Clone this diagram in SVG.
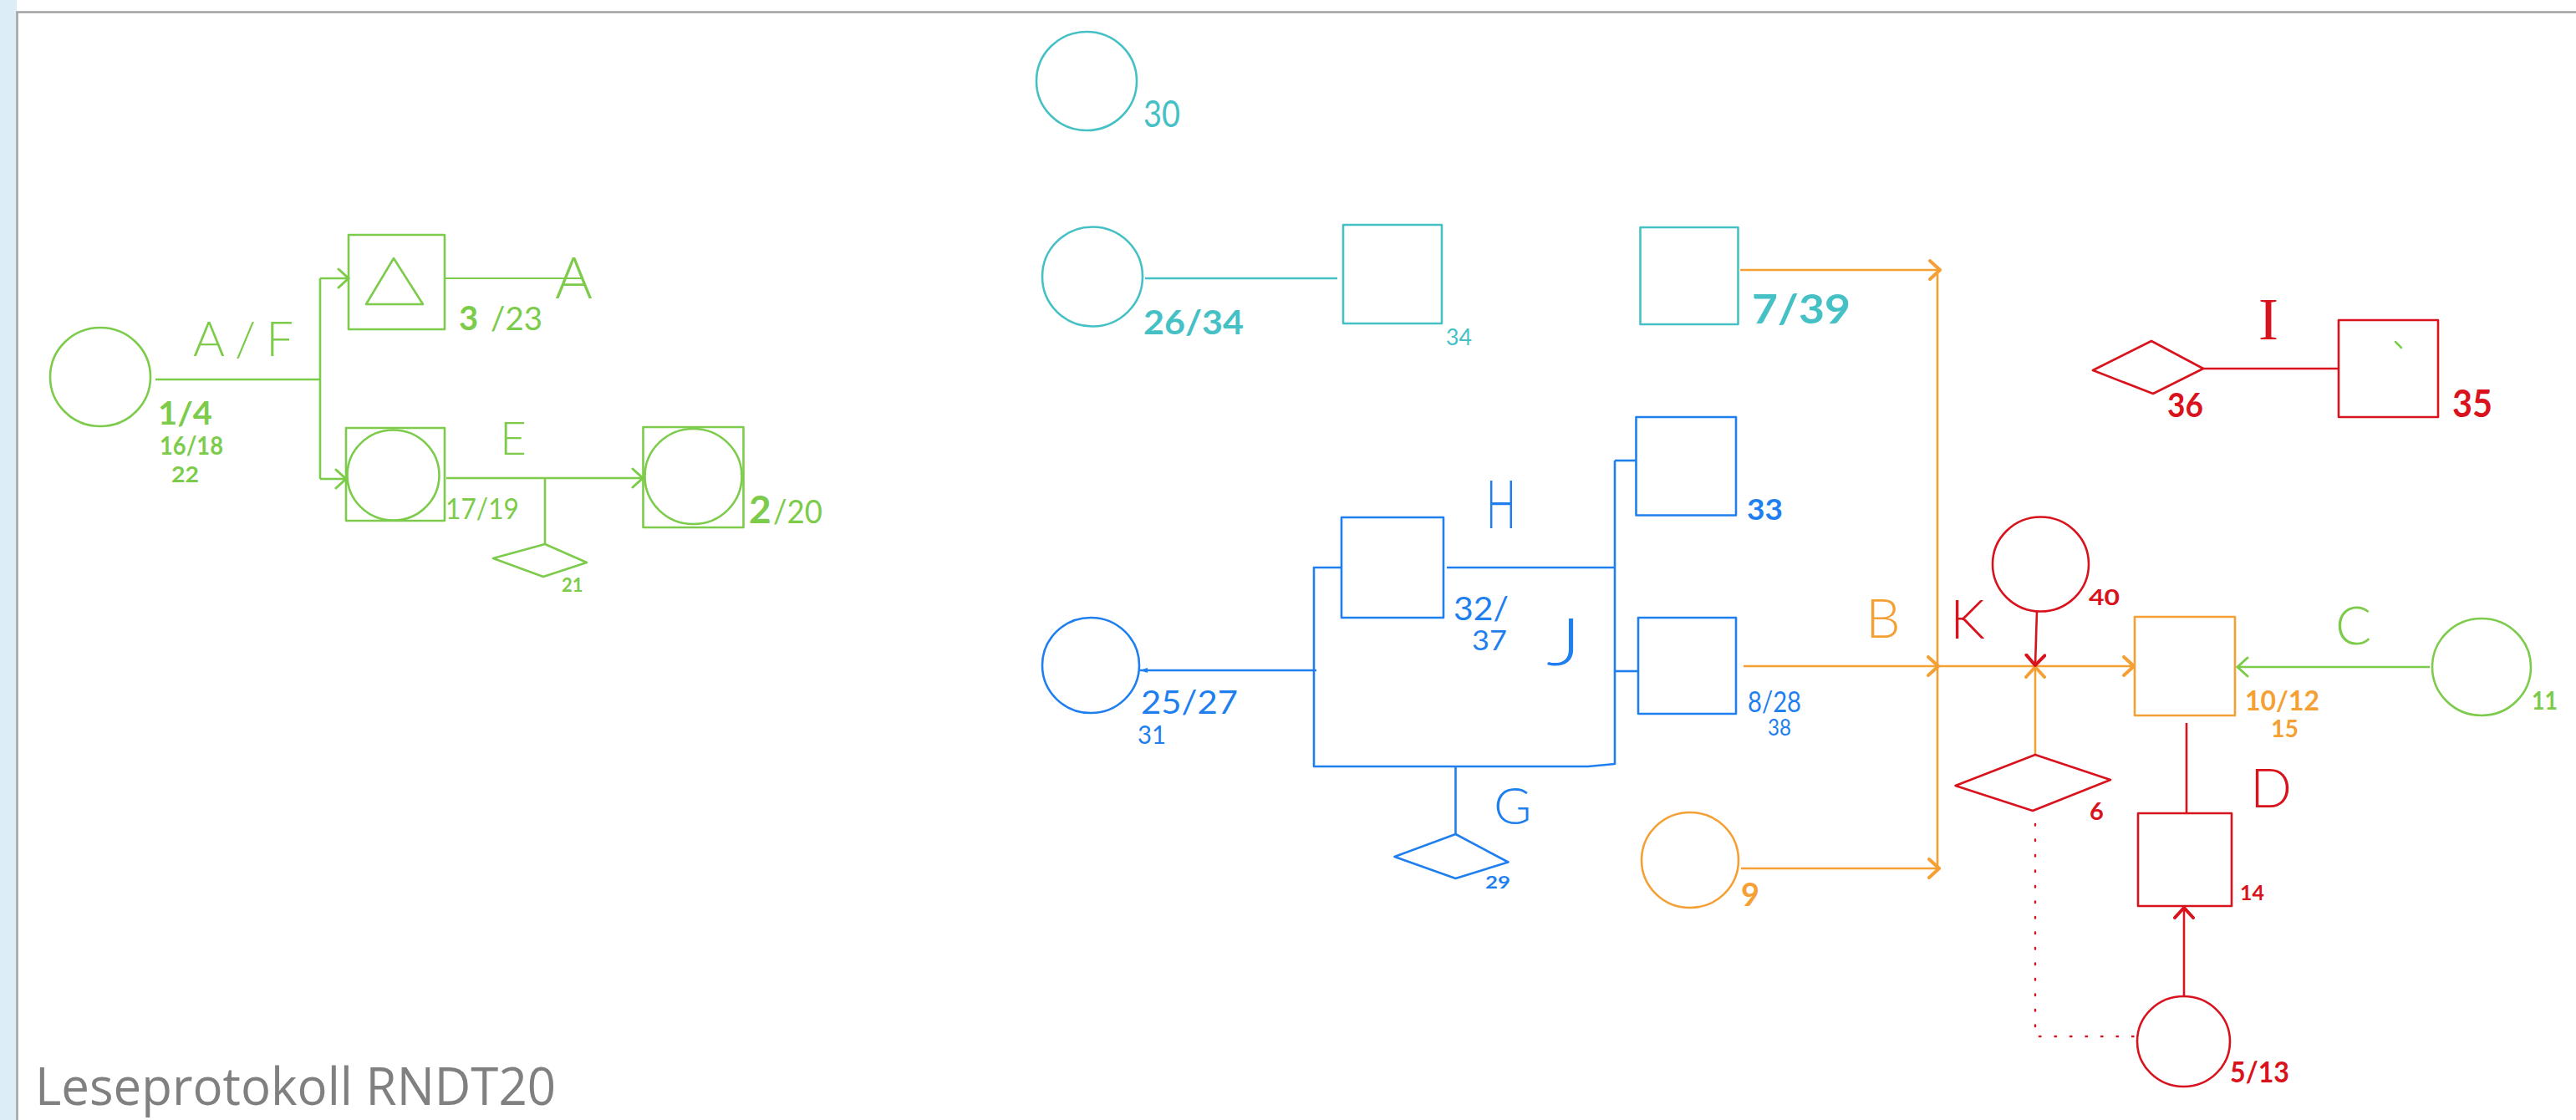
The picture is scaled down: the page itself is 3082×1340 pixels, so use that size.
<svg xmlns="http://www.w3.org/2000/svg" width="3082" height="1340" viewBox="0 0 3082 1340">
  <style>
    .shape { fill: none; stroke-width: 2.6; stroke-linejoin: round; }
    .g { stroke: #7ccb4a; }
    .c { stroke: #45c1c6; }
    .b { stroke: #1f7fee; }
    .o { stroke: #f4a035; }
    .r { stroke: #d8131d; }
    .lbl { font-family: Lato, "Liberation Sans", sans-serif; }
    .num { font-weight: 700; }
    .let { font-weight: 300; }
    .tg { fill: #7ccb4a; }
    .tc { fill: #45c1c6; }
    .tb { fill: #1f7fee; }
    .to { fill: #f4a035; }
    .tr { fill: #d8131d; }
    .title { font-family: "Open Sans", "Noto Sans", sans-serif; font-size: 62px; fill: #808080; }
  </style>
  <defs>
    <marker id="arrG" viewBox="0 0 16 26" refX="14" refY="13" markerWidth="16" markerHeight="26" markerUnits="userSpaceOnUse" orient="auto">
      <path d="M2,2 L14,13 L2,24" fill="none" stroke="#7ccb4a" stroke-width="3" stroke-linecap="round"/>
    </marker>
    <marker id="arrO" viewBox="0 0 16 26" refX="14" refY="13" markerWidth="16" markerHeight="26" markerUnits="userSpaceOnUse" orient="auto">
      <path d="M2,2 L14,13 L2,24" fill="none" stroke="#f4a035" stroke-width="4" stroke-linecap="round"/>
    </marker>
    <marker id="arrR" viewBox="0 0 16 26" refX="14" refY="13" markerWidth="16" markerHeight="26" markerUnits="userSpaceOnUse" orient="auto">
      <path d="M2,2 L14,13 L2,24" fill="none" stroke="#d8131d" stroke-width="4" stroke-linecap="round"/>
    </marker>
    <marker id="arrB" viewBox="0 0 10 8" refX="9" refY="4" markerWidth="10" markerHeight="8" markerUnits="userSpaceOnUse" orient="auto">
      <path d="M0,1 L9,4 L0,7 Z" fill="#1f7fee"/>
    </marker>
  </defs>

  <!-- page frame -->
  <rect x="0" y="0" width="3082" height="1340" fill="#ffffff"/>
  <rect x="0" y="0" width="20" height="1340" fill="#dcedf8"/>
  <path d="M20.5,1340 V14.5 H3082" fill="none" stroke="#a2a2a2" stroke-width="2.5"/>

  <!-- connectors -->
  <g id="connectors" class="shape">
    <!-- green: A/F, E, C -->
    <path class="g" d="M186,454 H383"/>
    <path class="g" d="M383,333 V573"/>
    <path class="g" d="M383,333 H417" marker-end="url(#arrG)"/>
    <path class="g" d="M383,573 H414" marker-end="url(#arrG)"/>
    <path class="g" d="M533,333 H698" stroke-width="1.8"/>
    <path class="g" d="M534,572 H769" marker-end="url(#arrG)"/>
    <path class="g" d="M652,572 V651"/>
    <path class="g" d="M2907,798 H2677" marker-end="url(#arrG)"/>
    <!-- cyan -->
    <path class="c" d="M1370,333 H1600"/>
    <!-- blue: G, H, J -->
    <path class="b" d="M1575,802 H1364" marker-end="url(#arrB)"/>
    <path class="b" d="M1605,679 H1572 V917 H1900 L1932,914"/>
    <path class="b" d="M1731,679 H1932"/>
    <path class="b" d="M1932,551 V915"/>
    <path class="b" d="M1932,551 H1958"/>
    <path class="b" d="M1932,803 H1960"/>
    <path class="b" d="M1741.5,917 V998"/>
    <!-- orange: B -->
    <path class="o" d="M2082,323 H2321" marker-end="url(#arrO)"/>
    <path class="o" d="M2318,325 V1038"/>
    <path class="o" d="M2083,1039 H2320" marker-end="url(#arrO)"/>
    <path class="o" d="M2086,797 H2319" marker-end="url(#arrO)"/>
    <path class="o" d="M2318,797 H2553" marker-end="url(#arrO)"/>
    <path class="o" d="M2435,903 V798" marker-end="url(#arrO)"/>
    <!-- red: K, D, I -->
    <path class="r" d="M2437,731 L2435,796" marker-end="url(#arrR)"/>
    <path class="r" d="M2435,986 V1240 H2554" stroke-width="2.4" stroke-dasharray="1.5 17" stroke-linecap="round"/>
    <path class="r" d="M2616,865 V973"/>
    <path class="r" d="M2613,1192 V1086" marker-end="url(#arrR)"/>
    <path class="r" d="M2636,441 H2797"/>
  </g>

  <!-- green nodes -->
  <g id="n-1-4">
    <ellipse class="shape g" cx="120" cy="451" rx="60" ry="59"/>
    <text class="lbl num tg" x="189" y="508" font-size="38" textLength="65" lengthAdjust="spacingAndGlyphs">1/4</text>
    <text class="lbl num tg" x="191" y="544" font-size="30" textLength="76" lengthAdjust="spacingAndGlyphs">16/18</text>
    <text class="lbl num tg" x="205" y="577" font-size="26" textLength="33" lengthAdjust="spacingAndGlyphs">22</text>
  </g>
  <text class="lbl let tg" x="231" y="426" font-size="58" textLength="120" lengthAdjust="spacing">A/F</text>
  <g id="n-3-23">
    <rect class="shape g" x="417" y="281" width="115" height="113"/>
    <polygon class="shape g" points="471,309 438,364 506,364" stroke-width="2"/>
    <text class="lbl num tg" x="549" y="395" font-size="40">3</text>
    <text class="lbl tg" x="587" y="395" font-size="38" textLength="62" lengthAdjust="spacingAndGlyphs">/23</text>
  </g>
  <text class="lbl let tg" x="664" y="357" font-size="68" font-weight="200" textLength="45" lengthAdjust="spacingAndGlyphs">A</text>
  <g id="n-17-19">
    <rect class="shape g" x="414" y="512" width="118" height="111"/>
    <ellipse class="shape g" cx="470.5" cy="568.5" rx="55" ry="54"/>
    <text class="lbl tg" x="533" y="621" font-size="34" textLength="88" lengthAdjust="spacingAndGlyphs">17/19</text>
  </g>
  <text class="lbl let tg" x="598" y="544" font-size="55">E</text>
  <g id="n-21">
    <polygon class="shape g" points="652,651 702,673 650,690 590,668"/>
    <text class="lbl num tg" x="672" y="708" font-size="22">21</text>
  </g>
  <g id="n-2-20">
    <rect class="shape g" x="769.5" y="511" width="120" height="120"/>
    <ellipse class="shape g" cx="829.5" cy="570" rx="58" ry="57"/>
    <text class="lbl num tg" x="896" y="626" font-size="46">2</text>
    <text class="lbl tg" x="925" y="626" font-size="38" textLength="59" lengthAdjust="spacingAndGlyphs">/20</text>
  </g>

  <!-- cyan nodes -->
  <g id="n-30">
    <ellipse class="shape c" cx="1300" cy="97" rx="60" ry="59"/>
    <text class="lbl tc" x="1368" y="152" font-size="44" textLength="44" lengthAdjust="spacingAndGlyphs">30</text>
  </g>
  <g id="n-26-34">
    <ellipse class="shape c" cx="1307" cy="331" rx="60" ry="59.5"/>
    <text class="lbl num tc" x="1368" y="400" font-size="40" textLength="120" lengthAdjust="spacingAndGlyphs">26/34</text>
  </g>
  <g id="n-34">
    <rect class="shape c" x="1607" y="269" width="118" height="118"/>
    <text class="lbl tc" x="1730" y="413" font-size="27" textLength="31" lengthAdjust="spacingAndGlyphs">34</text>
  </g>
  <g id="n-7-39">
    <rect class="shape c" x="1962.5" y="272" width="117" height="116"/>
    <text class="lbl num tc" x="2096" y="387" font-size="48" textLength="118" lengthAdjust="spacingAndGlyphs">7/39</text>
  </g>

  <!-- blue nodes -->
  <g id="n-25-27">
    <ellipse class="shape b" cx="1305" cy="796" rx="58" ry="57"/>
    <text class="lbl tb" x="1365" y="854" font-size="38" textLength="116" lengthAdjust="spacingAndGlyphs">25/27</text>
    <text class="lbl tb" x="1361" y="890" font-size="30" textLength="34" lengthAdjust="spacingAndGlyphs">31</text>
  </g>
  <g id="n-32-37">
    <rect class="shape b" x="1605" y="619" width="122" height="120"/>
    <text class="lbl tb" x="1739" y="742" font-size="38" textLength="66" lengthAdjust="spacingAndGlyphs">32/</text>
    <text class="lbl tb" x="1761" y="778" font-size="32" textLength="42" lengthAdjust="spacingAndGlyphs">37</text>
  </g>
  <text class="lbl let tb" x="1778" y="632" font-size="80" font-weight="200" textLength="36" lengthAdjust="spacingAndGlyphs">H</text>
  <text class="lbl let tb" x="1850" y="796" font-size="78" textLength="42" lengthAdjust="spacingAndGlyphs">J</text>
  <g id="n-33">
    <rect class="shape b" x="1957.5" y="499" width="119.5" height="117.5"/>
    <text class="lbl num tb" x="2090" y="622" font-size="34" textLength="43" lengthAdjust="spacingAndGlyphs">33</text>
  </g>
  <g id="n-8-28">
    <rect class="shape b" x="1960" y="739" width="117" height="115"/>
    <text class="lbl tb" x="2091" y="852" font-size="34" textLength="64" lengthAdjust="spacingAndGlyphs">8/28</text>
    <text class="lbl tb" x="2115" y="880" font-size="26" textLength="28" lengthAdjust="spacingAndGlyphs">38</text>
  </g>
  <g id="n-29">
    <polygon class="shape b" points="1741.5,998 1804.5,1031.5 1741.5,1051 1668.5,1025"/>
    <text class="lbl num tb" x="1777" y="1063" font-size="20" textLength="30" lengthAdjust="spacingAndGlyphs">29</text>
  </g>
  <text class="lbl let tb" x="1787" y="986" font-size="62">G</text>

  <!-- orange nodes -->
  <g id="n-9">
    <ellipse class="shape o" cx="2022" cy="1029" rx="58" ry="57"/>
    <text class="lbl num to" x="2083" y="1084" font-size="38">9</text>
  </g>
  <text class="lbl let to" x="2232" y="763" font-size="66">B</text>
  <g id="n-10-12">
    <rect class="shape o" x="2554" y="738" width="120" height="118"/>
    <text class="lbl num to" x="2686" y="850" font-size="32" textLength="89" lengthAdjust="spacingAndGlyphs">10/12</text>
    <text class="lbl num to" x="2717" y="882" font-size="28" textLength="33" lengthAdjust="spacingAndGlyphs">15</text>
  </g>

  <!-- red nodes -->
  <g id="n-40">
    <ellipse class="shape r" cx="2441.5" cy="675" rx="57.5" ry="56.5"/>
    <text class="lbl num tr" x="2499" y="724" font-size="27" textLength="37" lengthAdjust="spacingAndGlyphs">40</text>
  </g>
  <text class="lbl let tr" x="2333" y="764" font-size="66">K</text>
  <g id="n-6">
    <polygon class="shape r" points="2435,903 2525,933 2432,970 2339.5,940"/>
    <text class="lbl num tr" x="2500" y="981" font-size="29">6</text>
  </g>
  <g id="n-14">
    <rect class="shape r" x="2558" y="973" width="112" height="111"/>
    <text class="lbl num tr" x="2680" y="1077" font-size="25" textLength="29" lengthAdjust="spacingAndGlyphs">14</text>
  </g>
  <text class="lbl let tr" x="2692" y="966" font-size="66">D</text>
  <g id="n-5-13">
    <ellipse class="shape r" cx="2612.5" cy="1246" rx="55.5" ry="54"/>
    <text class="lbl num tr" x="2668" y="1295" font-size="34" textLength="71" lengthAdjust="spacingAndGlyphs">5/13</text>
  </g>
  <g id="n-36">
    <polygon class="shape r" points="2504,443 2574,408 2636,441 2576,471"/>
    <text class="lbl num tr" x="2593" y="499" font-size="40" textLength="43" lengthAdjust="spacingAndGlyphs">36</text>
  </g>
  <g id="n-35">
    <rect class="shape r" x="2798" y="383" width="119" height="116"/>
    <path d="M2866,409 L2873,416" stroke="#7ccb4a" stroke-width="2.5" stroke-linecap="round"/>
    <text class="lbl num tr" x="2934" y="499" font-size="45" textLength="48" lengthAdjust="spacingAndGlyphs">35</text>
  </g>
  <text class="tr" x="2702" y="406" font-family="'Liberation Serif', serif" font-size="72">I</text>

  <!-- green right node -->
  <g id="n-11">
    <ellipse class="shape g" cx="2969" cy="798" rx="59" ry="58"/>
    <text class="lbl num tg" x="3029" y="849" font-size="30" textLength="31" lengthAdjust="spacingAndGlyphs">11</text>
  </g>
  <text class="lbl let tg" x="2794" y="771" font-size="64">C</text>

  <text class="title" x="42" y="1322" textLength="623" lengthAdjust="spacingAndGlyphs">Leseprotokoll RNDT20</text>
</svg>
